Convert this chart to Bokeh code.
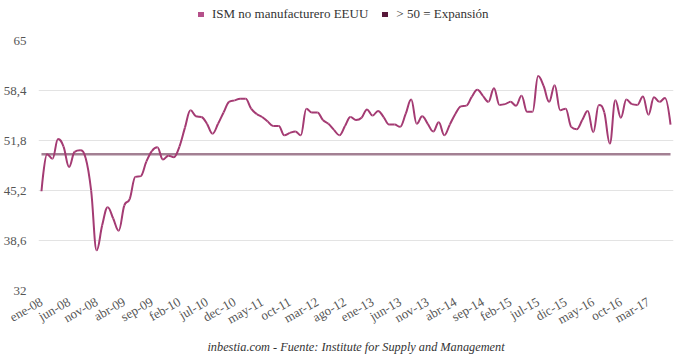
from bokeh.plotting import figure
from bokeh.layouts import column
from bokeh.models import FixedTicker, Legend, LegendItem, Title, ColumnDataSource, Range1d
from bokeh.embed import file_html
from bokeh.resources import INLINE

# ---- data (monthly, ene-08 .. jul-17) ----
ism = [
    45.1, 50.0, 49.4, 52.0, 51.0, 48.3, 50.3, 50.5, 49.5, 45.2, 37.3, 40.6,   # 2008
    43.0, 41.5, 39.9, 43.2, 44.1, 47.0, 47.1, 49.0, 50.4, 50.9, 49.3, 49.8,   # 2009
    49.6, 51.0, 53.5, 55.8, 55.0, 54.9, 54.0, 52.7, 54.0, 55.5, 56.9, 57.1,   # 2010
    57.3, 57.3, 56.0, 55.3, 54.9, 54.3, 53.7, 53.7, 52.5, 52.8, 53.0, 52.5,   # 2011
    56.0, 55.5, 55.5, 54.5, 54.0, 53.2, 52.5, 53.7, 54.9, 54.5, 54.8, 55.9,   # 2012
    55.1, 55.7, 54.9, 53.9, 53.9, 53.6, 55.3, 57.2, 54.0, 55.0, 54.0, 53.0,   # 2013
    54.2, 52.5, 53.9, 55.3, 56.3, 56.4, 57.6, 58.5, 57.7, 56.9, 58.7, 56.5,   # 2014
    56.6, 56.9, 56.4, 57.7, 55.6, 55.6, 60.3, 59.0, 56.9, 59.1, 55.8, 56.0,   # 2015
    53.6, 53.3, 54.5, 55.7, 52.9, 56.5, 55.5, 51.4, 57.1, 54.8, 57.2, 56.6,   # 2016
    56.5, 57.6, 55.2, 57.5, 56.9, 57.4, 53.9,                                 # 2017
]
threshold = 50
tick_positions = list(range(0, 111, 5))
tick_labels = ["ene-08", "jun-08", "nov-08", "abr-09", "sep-09", "feb-10", "jul-10",
               "dec-10", "may-11", "oct-11", "mar-12", "ago-12", "ene-13", "jun-13",
               "nov-13", "abr-14", "sep-14", "feb-15", "jul-15", "dic-15", "may-16",
               "oct-16", "mar-17"]
y_ticks = [32, 38.6, 45.2, 51.8, 58.4, 65]
y_tick_labels = ["32", "38,6", "45,2", "51,8", "58,4", "65"]
series_name = "ISM no manufacturero EEUU"
threshold_name = "> 50 = Expansión"
footer = "inbestia.com - Fuente: Institute for Supply and Management"

LINE_COLOR = "#a43b73"
LEG1_COLOR = "#b5508a"
THR_COLOR = "#58183a"
FONT = "Liberation Serif"

n = len(ism)
xs = list(range(n))

# spline control points (Highcharts-like smoothing) for the curved line
sm = 1.5
den = sm + 1
lc = [None] * n
rc = [None] * n
for i in range(n):
    x, y = xs[i], ism[i]
    if 0 < i < n - 1:
        lx, ly = xs[i - 1], ism[i - 1]
        nx, ny = xs[i + 1], ism[i + 1]
        lcx = (sm * x + lx) / den
        lcy = (sm * y + ly) / den
        rcx = (sm * x + nx) / den
        rcy = (sm * y + ny) / den
        corr = ((rcy - lcy) * (rcx - x)) / (rcx - lcx) + y - rcy
        lcy += corr
        rcy += corr
        if lcy > ly and lcy > y:
            lcy = max(ly, y); rcy = 2 * y - lcy
        elif lcy < ly and lcy < y:
            lcy = min(ly, y); rcy = 2 * y - lcy
        if rcy > ny and rcy > y:
            rcy = max(ny, y); lcy = 2 * y - rcy
        elif rcy < ny and rcy < y:
            rcy = min(ny, y); lcy = 2 * y - rcy
        lc[i] = (lcx, lcy)
        rc[i] = (rcx, rcy)
    else:
        lc[i] = (x, y)
        rc[i] = (x, y)

bez = ColumnDataSource(dict(
    x0=xs[:-1], y0=ism[:-1], x1=xs[1:], y1=ism[1:],
    cx0=[rc[i][0] for i in range(n - 1)], cy0=[rc[i][1] for i in range(n - 1)],
    cx1=[lc[i][0] for i in range(1, n)], cy1=[lc[i][1] for i in range(1, n)],
))

# ---------- legend strip ----------
lg = figure(width=680, height=26, output_backend="svg", toolbar_location=None,
            x_range=Range1d(0, 680), y_range=Range1d(0, 26),
            x_axis_location=None, y_axis_location=None,
            min_border_left=0, min_border_right=0, min_border_top=0, min_border_bottom=0)
lg.outline_line_color = None
lg.grid.grid_line_color = None
lg.background_fill_color = "white"
lg.border_fill_color = "white"
r1 = lg.line(x=[0, 0], y=[-10, -10], line_color=LEG1_COLOR, line_width=5, line_cap="round")
r2 = lg.line(x=[0, 0], y=[-10, -10], line_color=THR_COLOR, line_width=5, line_cap="round")
legend = Legend(items=[LegendItem(label=series_name, renderers=[r1]),
                       LegendItem(label=threshold_name, renderers=[r2])],
                orientation="horizontal", location=(160, 4),
                label_text_font=FONT, label_text_font_size="13px", label_text_color="#333333",
                label_height=14, glyph_width=6, glyph_height=10, label_standoff=8, spacing=14,
                padding=0, margin=0, border_line_color=None, background_fill_alpha=0)
lg.add_layout(legend, "center")

# ---------- main chart ----------
p = figure(width=680, height=334, output_backend="svg", toolbar_location=None,
           x_range=Range1d(-0.54, 114.54), y_range=Range1d(32, 65),
           min_border_left=30, min_border_right=7, min_border_top=14, min_border_bottom=70)
p.outline_line_color = None
p.background_fill_color = "white"
p.border_fill_color = "white"

# threshold line
p.line([0, n - 1], [threshold, threshold], line_color=THR_COLOR, line_alpha=0.55, line_width=2.5)
# series
p.bezier(x0="x0", y0="y0", x1="x1", y1="y1", cx0="cx0", cy0="cy0", cx1="cx1", cy1="cy1",
         source=bez, line_color=LINE_COLOR, line_width=2)

p.xgrid.grid_line_color = None
p.ygrid.grid_line_color = "#e3e3e3"
p.ygrid.ticker = FixedTicker(ticks=y_ticks)

p.yaxis.ticker = FixedTicker(ticks=y_ticks)
p.yaxis.major_label_overrides = {t: l for t, l in zip(y_ticks, y_tick_labels)}
p.yaxis.axis_line_color = None
p.yaxis.major_tick_line_color = None
p.yaxis.minor_tick_line_color = None
p.yaxis.major_label_standoff = 6
p.yaxis.major_label_text_font = FONT
p.yaxis.major_label_text_font_size = "13px"
p.yaxis.major_label_text_color = "#555555"

p.xaxis.ticker = FixedTicker(ticks=tick_positions)
p.xaxis.major_label_overrides = {t: l for t, l in zip(tick_positions, tick_labels)}
p.xaxis.axis_line_color = None
p.xaxis.major_tick_line_color = None
p.xaxis.minor_tick_line_color = None
p.xaxis.major_label_orientation = 0.52
p.xaxis.major_label_standoff = 4
p.xaxis.major_label_text_font = FONT
p.xaxis.major_label_text_font_size = "13px"
p.xaxis.major_label_text_color = "#555555"

p.add_layout(Title(text=footer, align="center", text_font=FONT, text_font_size="12.3px",
                   text_font_style="italic", text_color="#333333", standoff=2), "below")

layout = column(lg, p, spacing=0)
open("out.html", "w").write(file_html(layout, INLINE))
